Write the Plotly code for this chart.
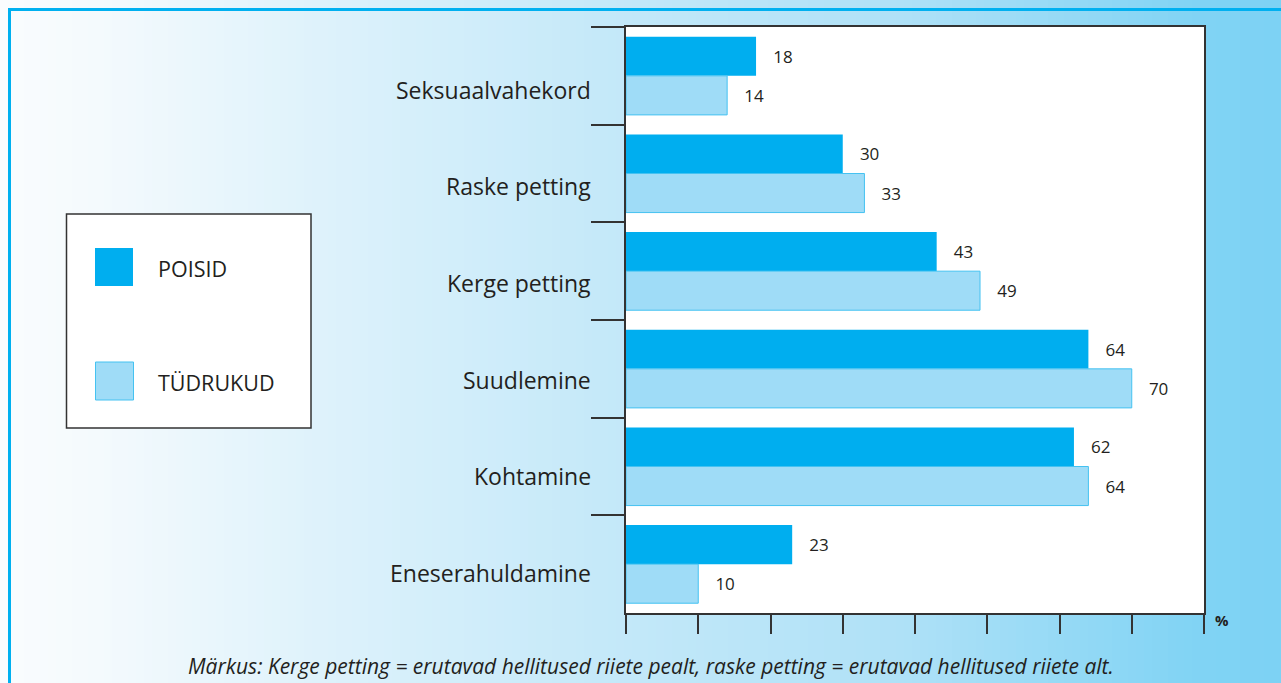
import plotly.graph_objects as go

# ---- data ----
categories = ["Seksuaalvahekord", "Raske petting", "Kerge petting",
              "Suudlemine", "Kohtamine", "Eneserahuldamine"]
poisid = [18, 30, 43, 64, 62, 23]
tudrukud = [14, 33, 49, 70, 64, 10]
series_names = ["POISID", "TÜDRUKUD"]
x_ticks = [0, 10, 20, 30, 40, 50, 60, 70, 80]
note = "Märkus: Kerge petting = erutavad hellitused riiete pealt, raske petting = erutavad hellitused riiete alt."

# ---- style ----
W, H = 1281, 683
L, R, T, B = 626, 1204, 27, 613
DARK = "#00aeef"
LIGHT = "#9fdcf7"
LIGHT_LINE = "#45c2f1"
TXT = "#231f20"
FONT = "Open Sans"


def px(x):
    return (x - L) / (R - L)


def py(y):
    return (B - y) / (B - T)


fig = go.Figure()
fig.add_trace(go.Bar(y=categories, x=poisid, orientation="h", name=series_names[0],
                     marker=dict(color=DARK, line=dict(width=0)),
                     text=poisid, texttemplate="\u2002\u2009\u2009%{x}", textposition="outside",
                     textfont=dict(size=17, color=TXT, family=FONT), cliponaxis=False))
fig.add_trace(go.Bar(y=categories, x=tudrukud, orientation="h", name=series_names[1],
                     marker=dict(color=LIGHT, line=dict(width=1, color=LIGHT_LINE)),
                     text=tudrukud, texttemplate="\u2002\u2009\u2009%{x}", textposition="outside",
                     textfont=dict(size=17, color=TXT, family=FONT), cliponaxis=False))

shapes = []
# gradient background stripes
stops = [(0, (250, 252, 254)), (100, (244, 250, 253)), (320, (222, 242, 251)),
         (600, (197, 233, 249)), (900, (175, 225, 247)), (1100, (144, 216, 245)),
         (1200, (128, 211, 244)), (1281, (125, 210, 244))]


def col_at(x):
    for (x0, c0), (x1, c1) in zip(stops[:-1], stops[1:]):
        if x0 <= x <= x1:
            t = (x - x0) / (x1 - x0)
            return "rgb(%d,%d,%d)" % tuple(round(a + (b - a) * t) for a, b in zip(c0, c1))
    return "rgb(125,210,244)"


step = 8
for x in range(0, W, step):
    shapes.append(dict(type="rect", xref="paper", yref="paper", layer="below",
                       x0=px(x), x1=px(x + step + 1), y0=py(H + 5), y1=py(-5),
                       fillcolor=col_at(x + step / 2), line=dict(width=0)))
# white plot area
shapes.append(dict(type="rect", xref="paper", yref="paper", layer="below",
                   x0=0, x1=1, y0=0, y1=1, fillcolor="white", line=dict(width=0)))
# outer blue frame
shapes.append(dict(type="rect", xref="paper", yref="paper", layer="above",
                   x0=px(9.5), x1=px(1300), y0=py(720), y1=py(9.5),
                   line=dict(color="#00b0f0", width=3)))
# legend box
shapes.append(dict(type="rect", xref="paper", yref="paper",
                   x0=px(66.5), x1=px(311), y0=py(428), y1=py(214),
                   fillcolor="white", line=dict(color="#333333", width=1.5)))
# legend swatches
shapes.append(dict(type="rect", xref="paper", yref="paper",
                   x0=px(95), x1=px(133), y0=py(286), y1=py(248),
                   fillcolor=DARK, line=dict(width=0)))
shapes.append(dict(type="rect", xref="paper", yref="paper",
                   x0=px(95.5), x1=px(133.5), y0=py(400), y1=py(362),
                   fillcolor=LIGHT, line=dict(color=LIGHT_LINE, width=1)))

annotations = [
    dict(text=series_names[0], xref="paper", yref="paper", x=px(156), y=py(268),
         xanchor="left", yanchor="middle", showarrow=False,
         font=dict(size=21.5, color=TXT, family=FONT)),
    dict(text=series_names[1], xref="paper", yref="paper", x=px(156), y=py(382),
         xanchor="left", yanchor="middle", showarrow=False,
         font=dict(size=21.5, color=TXT, family=FONT)),
    dict(text="<b>%</b>", xref="paper", yref="paper", x=px(1213), y=py(620),
         xanchor="left", yanchor="middle", showarrow=False,
         font=dict(size=15, color=TXT, family=FONT)),
    dict(text="<i>" + note + "</i>", xref="paper", yref="paper", x=px(651), y=py(666),
         xanchor="center", yanchor="middle", showarrow=False,
         font=dict(size=21, color=TXT, family=FONT)),
]
# category labels (placed as annotations so they can sit slightly lower, as in the original)
for i, c in enumerate(categories):
    annotations.append(dict(text=c, xref="paper", yref="y", x=px(593), y=c,
                            xanchor="right", yanchor="middle", showarrow=False,
                            yshift=-(14 - 1.1 * i),
                            font=dict(size=23, color=TXT, family=FONT)))

fig.update_layout(
    width=W, height=H,
    margin=dict(l=L, r=W - R, t=T, b=H - B, pad=0),
    barmode="group", bargap=0.2, bargroupgap=0,
    showlegend=False,
    paper_bgcolor="white", plot_bgcolor="white",
    shapes=shapes, annotations=annotations,
    font=dict(family=FONT, color=TXT),
)
fig.update_xaxes(range=[0, 80], tickvals=x_ticks, showticklabels=False,
                 ticks="outside", ticklen=19, tickwidth=1.5, tickcolor="#333333",
                 showline=True, linecolor="#333333", linewidth=2, mirror=True,
                 showgrid=False, zeroline=False)
fig.update_yaxes(categoryorder="array", categoryarray=categories, range=[5.5, -0.5],
                 tickson="boundaries", ticks="outside", ticklen=33, tickwidth=1.5,
                 tickcolor="#333333", showline=True, linecolor="#333333", linewidth=2,
                 mirror=True, showgrid=False, zeroline=False, showticklabels=False)

fig.write_html("out.html", config={"displayModeBar": False},
               post_script="document.body.style.margin='0';document.body.style.overflow='hidden';")
